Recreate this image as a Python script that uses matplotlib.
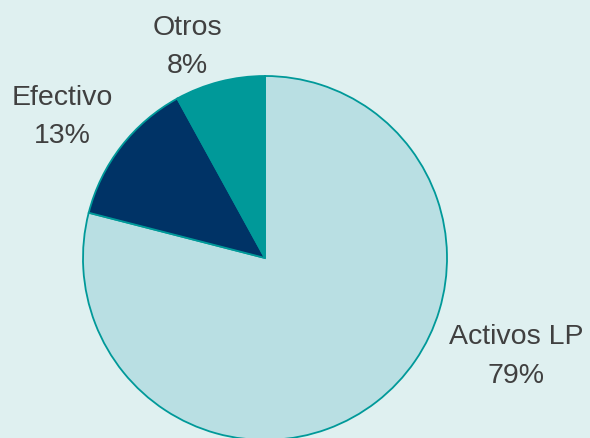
import matplotlib
matplotlib.use("Agg")
import matplotlib.pyplot as plt

categories = ["Activos LP", "Efectivo", "Otros"]
values = [79, 13, 8]
pct_labels = ["79%", "13%", "8%"]

colors = ["#B9DFE3", "#003366", "#009999"]
bg = "#DFF0F0"

W, H = 590, 439
fig = plt.figure(figsize=(W / 100, H / 100), dpi=100, facecolor=bg)
ax = fig.add_axes([0, 0, 1, 1])
ax.set_facecolor(bg)
ax.set_xlim(0, W)
ax.set_ylim(0, H)
ax.set_aspect("equal")
ax.axis("off")

ax.pie(values, colors=colors, startangle=90, counterclock=False,
       radius=182, center=(265, H - 259),
       wedgeprops=dict(edgecolor="#009999", linewidth=1.3))
ax.set_xlim(0, W)
ax.set_ylim(0, H)

font = dict(family=["Liberation Sans", "DejaVu Sans"], fontsize=20.5,
            color="#404040", ha="center", va="baseline")
label_pos = {"Activos LP": (516, 344, 383),
             "Efectivo": (62, 105, 143),
             "Otros": (187, 35, 73)}
for cat, pct in zip(categories, pct_labels):
    x, y1, y2 = label_pos[cat]
    ax.text(x, H - y1, cat, **font)
    ax.text(x, H - y2, pct, **font)

fig.savefig("out.png", dpi=100, facecolor=bg)
